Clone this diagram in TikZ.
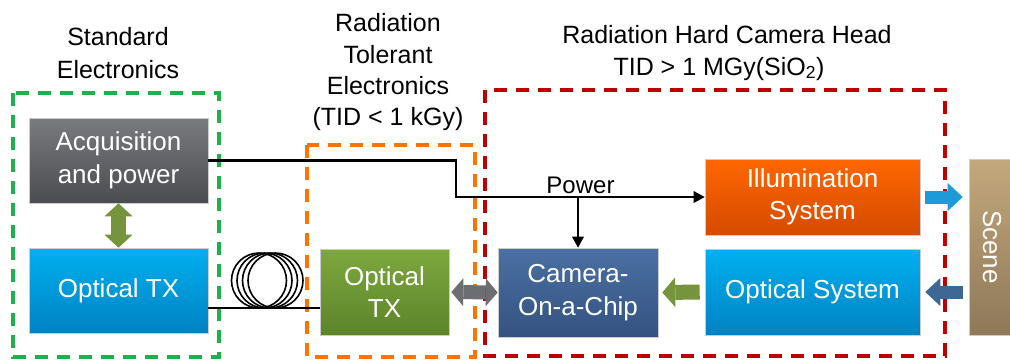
\documentclass[tikz,border=0pt]{standalone}
\usepackage{fontspec}
\setmainfont{Liberation Sans}
\usetikzlibrary{arrows.meta}
\definecolor{grayT}{HTML}{7A7B7E}
\definecolor{grayB}{HTML}{4B4C4F}
\definecolor{blueT}{HTML}{00B0F0}
\definecolor{blueB}{HTML}{0082C2}
\definecolor{greenT}{HTML}{7DA83E}
\definecolor{greenB}{HTML}{5C842A}
\definecolor{camT}{HTML}{4B70A3}
\definecolor{camB}{HTML}{345281}
\definecolor{illT}{HTML}{FF6600}
\definecolor{illB}{HTML}{D54B00}
\definecolor{sceneT}{HTML}{C4A87D}
\definecolor{sceneB}{HTML}{8E7858}
\definecolor{frameGreen}{HTML}{1EB14B}
\definecolor{frameOrange}{HTML}{FF7300}
\definecolor{frameRed}{HTML}{C00000}
\definecolor{olive}{HTML}{76943C}
\definecolor{arrGray}{HTML}{6D6E71}
\definecolor{arrBlue}{HTML}{1C9BD8}
\definecolor{arrSlate}{HTML}{3F6796}
\tikzset{
  box/.style={draw=white!80!black, line width=0.6pt, inner sep=0pt, text=white,
    align=center, font=\fontsize{26}{32.5}\selectfont},
  titletext/.style={anchor=base, inner sep=0pt, font=\fontsize{25}{32}\selectfont},
  frame/.style={line width=3.5pt, dash pattern=on 13pt off 9pt},
}
\begin{document}
\begin{tikzpicture}[x=1pt,y=-1pt]
\useasboundingbox (0,0) rectangle (1010,360);
\clip (0,0) rectangle (1010,360);

% frames
\draw[frame, frameGreen] (13,93) rectangle (219,357);
\draw[frame, frameOrange] (307,145) rectangle (475,357);
\draw[frame, frameRed] (485,90) rectangle (945,356);

% titles
\node[titletext] (t1a) at (118,45) {Standard};
\node[titletext] (t1b) at (118,78) {Electronics};
\node[titletext] (t2a) at (388,31) {Radiation};
\node[titletext] (t2b) at (388,63) {Tolerant};
\node[titletext] (t2c) at (388,94) {Electronics};
\node[titletext] (t2d) at (388,125) {(TID < 1 kGy)};
\node[titletext] (t3a) at (727,43) {Radiation Hard Camera Head};
\node[titletext] (t3b) at (719,75) {TID > 1 MGy(SiO\textsubscript{2})};

% boxes
\node[box, top color=grayT, bottom color=grayB, minimum width=179pt, minimum height=85pt] (acq) at (118.5,160.5) {Acquisition\\and power};
\node[box, top color=blueT, bottom color=blueB, minimum width=179pt, minimum height=85pt] (otx1) at (118.5,290.5) {Optical TX};
\node[box, top color=greenT, bottom color=greenB, minimum width=129pt, minimum height=86pt] (otx2) at (384.5,292) {Optical\\TX};
\node[box, top color=camT, bottom color=camB, minimum width=160pt, minimum height=89pt] (cam) at (578,292.5) {Camera-\\On-a-Chip};
\node[box, top color=illT, bottom color=illB, minimum width=215pt, minimum height=76pt] (ill) at (812.5,197) {Illumination\\System};
\node[box, top color=blueT, bottom color=blueB, minimum width=215pt, minimum height=86pt] (osys) at (812.5,292) {Optical System};
\node[box, top color=sceneT, bottom color=sceneB, minimum width=46pt, minimum height=176pt] (scene) at (992,247) {};
\node[text=white, rotate=-90, font=\fontsize{26}{32}\selectfont, inner sep=0pt] (scenelbl) at (scene.center) {Scene};

% power line
\coordinate (pj) at (456,197);
\draw[line width=2.6pt, -{Triangle[length=11pt,width=12pt,line width=0pt]}] (acq.east) -| (pj) -- (ill.west);
\draw[line width=2.6pt, -{Triangle[length=11pt,width=12pt,line width=0pt]}] (cam.north |- pj) -- (cam.north);
\node[anchor=base, inner sep=0pt, font=\fontsize{24}{28}\selectfont] (pw) at (580.5,193) {Power};

% fiber
\path (otx1.east) ++(0,17.5) coordinate (f1);
\draw[line width=1.6pt] (f1) -- (f1 -| otx2.west);
\foreach \cx in {259,264.5,270,275.5}
  \draw[line width=1.6pt] (\cx,280.5) circle[radius=27.5pt];

% block arrows
\draw[olive, line width=15pt, {Triangle[length=13pt,width=28pt,line width=0pt]}-{Triangle[length=13pt,width=28pt,line width=0pt]}] (acq.south) -- (otx1.north);
\draw[arrGray, line width=14pt, shorten <=2pt, {Triangle[length=12pt,width=28pt,line width=0pt]}-{Triangle[length=12pt,width=28pt,line width=0pt]}] (otx2.east) -- (cam.west);
\draw[olive, line width=15pt, shorten <=5pt, shorten >=4pt, -{Triangle[length=13pt,width=30pt,line width=0pt]}] (osys.west) -- (cam.east);
\draw[arrBlue, line width=13pt, shorten <=5pt, shorten >=6pt, -{Triangle[length=15pt,width=28pt,line width=0pt]}] (ill.east) -- (ill.east -| scene.west);
\draw[arrSlate, line width=13pt, shorten <=6pt, shorten >=5pt, -{Triangle[length=15pt,width=28pt,line width=0pt]}] (osys.east -| scene.west) -- (osys.east);
\end{tikzpicture}
\end{document}
